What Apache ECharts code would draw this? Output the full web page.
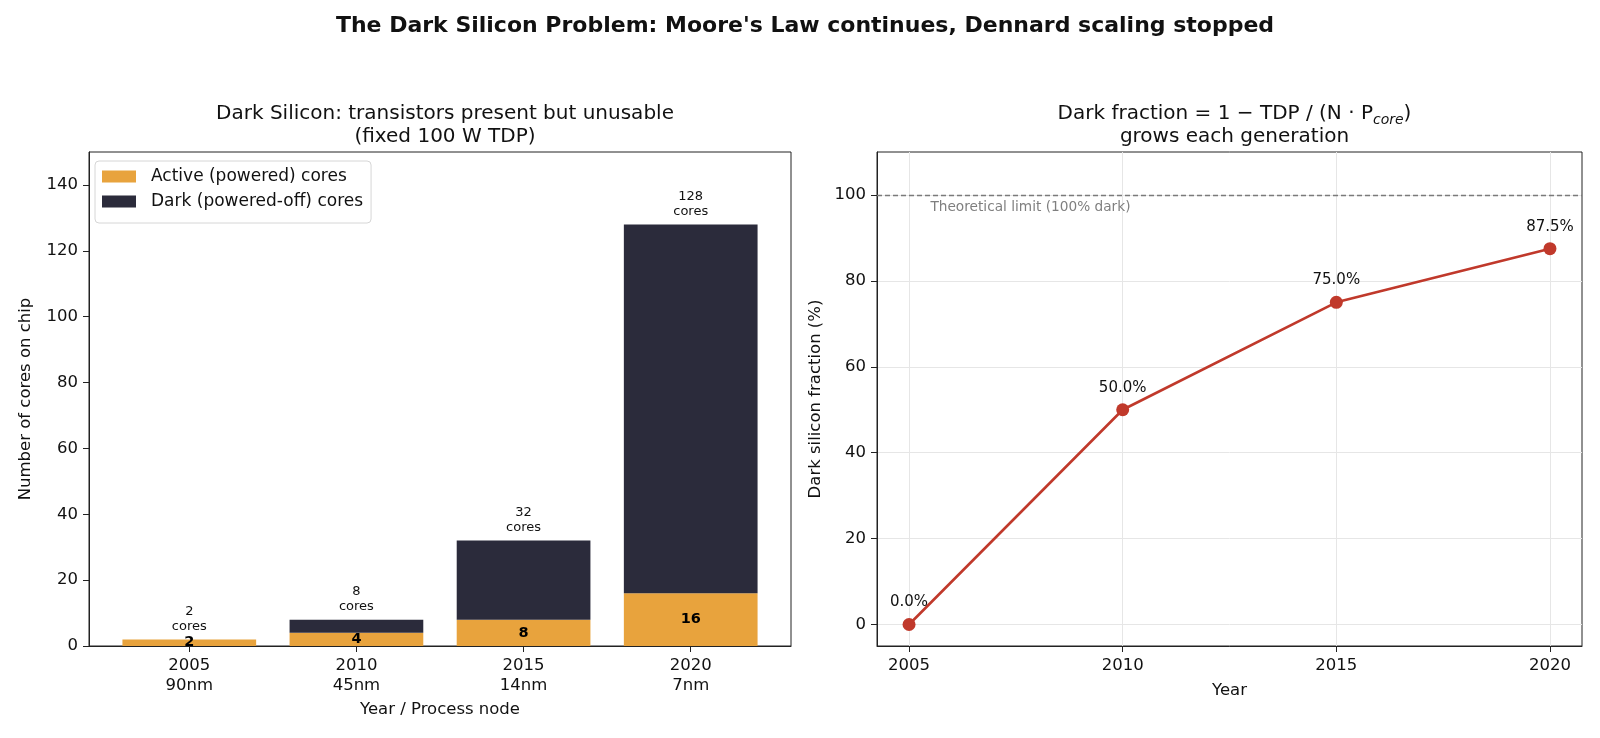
<!DOCTYPE html>
<html>
<head>
<meta charset="utf-8">
<script src="https://cdn.jsdelivr.net/npm/echarts@6/dist/echarts.min.js"></script>
<style>
  html, body { margin: 0; padding: 0; background: #fff; }
  #main { width: 1600px; height: 738px; }
</style>
</head>
<body>
<div id="main"></div>
<script>
// data
var years = ['2005', '2010', '2015', '2020'];
var nodes = ['90nm', '45nm', '14nm', '7nm'];
var totalCores = [2, 8, 32, 128];
var activeCores = [2, 4, 8, 16];
var darkCores = [0, 4, 24, 112];
var lineYears = [2005, 2010, 2015, 2020];
var darkFraction = [0, 50, 75, 87.5];
var coreTicks = [0, 20, 40, 60, 80, 100, 120, 140];
var fracTicks = [0, 20, 40, 60, 80, 100];

var FONT = 'DejaVu Sans';
var ORANGE = '#E8A33D';
var DARK = '#2B2B3B';
var RED = '#C0392B';

var chartDom = document.getElementById('main');
var myChart = echarts.init(chartDom);

var leftGrid = { left: 89, top: 152, width: 702, height: 494 };
var rightGrid = { left: 877, top: 152, width: 705, height: 494 };
var barW = 0.8 * leftGrid.width / 4.2;

var axisBase = {
  axisLine: { show: true, onZero: false, lineStyle: { color: '#222', width: 1 } },
  axisTick: { show: true, length: 6, lineStyle: { color: '#222' } },
  axisLabel: { color: '#111', fontSize: 16.5, fontFamily: FONT },
  nameTextStyle: { color: '#111', fontSize: 16.5, fontFamily: FONT },
  splitLine: { show: false }
};

function mergeAxis(extra) {
  var o = JSON.parse(JSON.stringify(axisBase));
  for (var k in extra) {
    if (typeof extra[k] === 'object' && o[k] && !Array.isArray(extra[k])) {
      o[k] = Object.assign({}, o[k], extra[k]);
    } else {
      o[k] = extra[k];
    }
  }
  return o;
}

var barIdx = [0, 1, 2, 3];

var option = {
  backgroundColor: '#fff',
  animation: false,
  textStyle: { fontFamily: FONT },
  title: [
    {
      text: "The Dark Silicon Problem: Moore's Law continues, Dennard scaling stopped",
      left: 800, top: 10, textAlign: 'center',
      textStyle: { fontSize: 22, fontWeight: 'bold', color: '#111', fontFamily: FONT }
    },
    {
      text: 'Dark Silicon: transistors present but unusable\n(fixed 100 W TDP)',
      left: leftGrid.left + leftGrid.width / 2, top: 97, textAlign: 'center',
      textStyle: { fontSize: 20, fontWeight: 'normal', color: '#111', fontFamily: FONT, lineHeight: 23 }
    },
    {
      text: 'Dark fraction = 1 − TDP / (N · P{sub|core})\ngrows each generation',
      left: rightGrid.left + rightGrid.width / 2, top: 97, textAlign: 'center',
      textStyle: {
        fontSize: 20, fontWeight: 'normal', color: '#111', fontFamily: FONT, lineHeight: 23,
        rich: {
          sub: { fontSize: 14, fontStyle: 'italic', fontFamily: FONT, color: '#111', verticalAlign: 'bottom', lineHeight: 23, padding: [0, 0, -2, 0] }
        }
      }
    }
  ],
  legend: {
    left: 95, top: 161,
    orient: 'vertical',
    data: ['Active (powered) cores', 'Dark (powered-off) cores'],
    itemWidth: 34, itemHeight: 12, itemGap: 8,
    padding: [7, 8, 13, 7],
    backgroundColor: '#fff',
    borderColor: '#d6d6d6', borderWidth: 1, borderRadius: 4,
    textStyle: { fontSize: 17, color: '#111', fontFamily: FONT, padding: [0, 0, 0, 10] },
    icon: 'rect'
  },
  grid: [
    Object.assign({ show: true, borderColor: '#222', borderWidth: 1, backgroundColor: 'transparent' }, leftGrid),
    Object.assign({ show: true, borderColor: '#222', borderWidth: 1, backgroundColor: 'transparent' }, rightGrid)
  ],
  xAxis: [
    mergeAxis({
      gridIndex: 0, type: 'value', min: -0.6, max: 3.6,
      axisTick: { customValues: barIdx },
      axisLabel: {
        customValues: barIdx, margin: 10, lineHeight: 20,
        formatter: function (v) { return years[Math.round(v)] + '\n' + nodes[Math.round(v)]; }
      },
      name: 'Year / Process node', nameLocation: 'middle', nameGap: 55
    }),
    mergeAxis({
      gridIndex: 1, type: 'value', min: 2004.25, max: 2020.75,
      axisTick: { customValues: lineYears },
      axisLabel: { customValues: lineYears, margin: 10, lineHeight: 19, formatter: function (v) { return String(v); } },
      name: 'Year', nameLocation: 'middle', nameGap: 36
    })
  ],
  yAxis: [
    mergeAxis({
      gridIndex: 0, type: 'value', min: 0, max: 150,
      axisTick: { customValues: coreTicks },
      axisLabel: { customValues: coreTicks, margin: 11 },
      name: 'Number of cores on chip', nameLocation: 'middle', nameGap: 55
    }),
    mergeAxis({
      gridIndex: 1, type: 'value', min: -5, max: 110,
      axisTick: { customValues: fracTicks },
      axisLabel: { customValues: fracTicks, margin: 11 },
      name: 'Dark silicon fraction (%)', nameLocation: 'middle', nameGap: 53
    })
  ],
  series: [
    {
      name: 'Active (powered) cores',
      type: 'bar', stack: 'cores',
      xAxisIndex: 0, yAxisIndex: 0,
      barWidth: barW,
      itemStyle: { color: ORANGE },
      encode: { x: 1, y: 0 },
      data: activeCores.map(function (v, i) { return [v, i]; }),
      label: {
        show: true, position: 'inside',
        fontSize: 14.5, fontWeight: 'bold', color: '#000', fontFamily: FONT,
        formatter: function (p) { return p.value[0]; }
      },
      z: 2
    },
    {
      name: 'Dark (powered-off) cores',
      type: 'bar', stack: 'cores',
      xAxisIndex: 0, yAxisIndex: 0,
      barWidth: barW,
      itemStyle: { color: DARK },
      encode: { x: 1, y: 0 },
      data: darkCores.map(function (v, i) { return [v, i]; }),
      label: {
        show: true, position: 'top', distance: 5,
        fontSize: 13, color: '#111', fontFamily: FONT, lineHeight: 15.5,
        formatter: function (p) { return totalCores[p.dataIndex] + '\ncores'; }
      },
      z: 2
    },
    {
      name: 'gridlines',
      type: 'line', xAxisIndex: 1, yAxisIndex: 1,
      data: [], silent: true, symbol: 'none',
      lineStyle: { opacity: 0 },
      z: 0,
      markLine: {
        silent: true, symbol: 'none', z: 0,
        label: { show: false },
        lineStyle: { color: '#e6e6e6', width: 1, type: 'solid' },
        data: lineYears.map(function (y) { return { xAxis: y }; })
          .concat(fracTicks.map(function (y) { return { yAxis: y }; }))
      }
    },
    {
      name: 'limit',
      type: 'line', xAxisIndex: 1, yAxisIndex: 1,
      data: [], silent: true, symbol: 'none',
      lineStyle: { opacity: 0 },
      z: 1,
      markLine: {
        silent: true, symbol: 'none', z: 1,
        label: { show: false },
        lineStyle: { color: '#7a7a7a', width: 1.3, type: [5, 3] },
        data: [{ yAxis: 100 }]
      },
      markPoint: {
        silent: true, symbol: 'circle', symbolSize: 0,
        label: {
          show: true, position: 'right', distance: 0,
          color: '#7f7f7f', fontSize: 13.7, fontFamily: FONT,
          formatter: 'Theoretical limit (100% dark)'
        },
        data: [{ coord: [2005.5, 97] }]
      }
    },
    {
      name: 'Dark fraction',
      type: 'line', xAxisIndex: 1, yAxisIndex: 1,
      data: lineYears.map(function (y, i) { return [y, darkFraction[i]]; }),
      symbol: 'circle', symbolSize: 13,
      lineStyle: { color: RED, width: 2.6 },
      itemStyle: { color: RED },
      label: {
        show: true, position: 'top', distance: 8,
        fontSize: 15, color: '#111', fontFamily: FONT,
        formatter: function (p) { return p.value[1].toFixed(1) + '%'; }
      },
      z: 3
    }
  ]
};

option && myChart.setOption(option);
</script>
</body>
</html>
